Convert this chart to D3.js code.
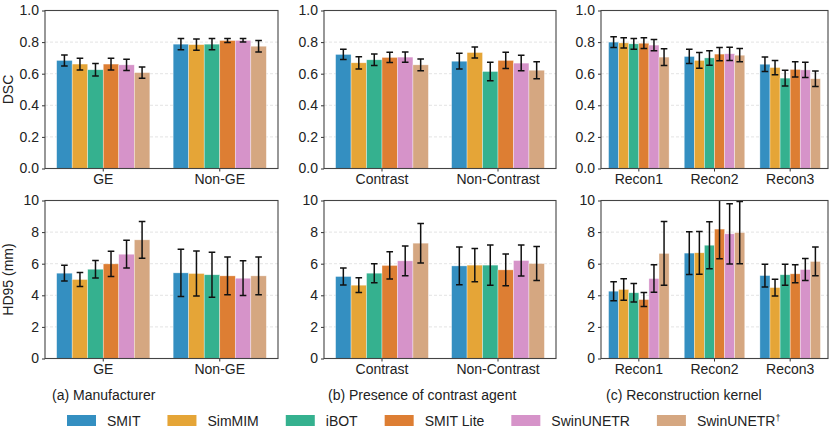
<!DOCTYPE html>
<html>
<head>
<meta charset="utf-8">
<script src="https://cdn.jsdelivr.net/npm/d3@7"></script>
<style>
  body { margin: 0; background: #fff; }
  text { font-family: "Liberation Sans", Arial, sans-serif; fill: #222; }
</style>
</head>
<body>
<div id="chart-area"></div>
<script>
const WIDTH = 837
const HEIGHT = 433

// models and colours (seaborn colorblind at 0.8 alpha)
const models = ["SMIT", "SimMIM", "iBOT", "SMIT Lite", "SwinUNETR", "SwinUNETR"]
const colors = ["#348fc1", "#e5a537", "#35b18f", "#dd7e33", "#d693c9", "#d5a781"]

// categories
const manuCats = ["GE", "Non-GE"]
const contrastCats = ["Contrast", "Non-Contrast"]
const reconCats = ["Recon1", "Recon2", "Recon3"]

// DSC means / error half-widths (one row per category, one value per model)
const dscManu = [[0.684, 0.661, 0.625, 0.661, 0.656, 0.607], [0.787, 0.784, 0.787, 0.810, 0.811, 0.774]]
const dscManuErr = [[0.035, 0.037, 0.040, 0.037, 0.035, 0.036], [0.036, 0.036, 0.036, 0.012, 0.011, 0.036]]
const dscContrast = [[0.722, 0.669, 0.688, 0.703, 0.705, 0.656], [0.679, 0.734, 0.614, 0.684, 0.667, 0.622]]
const dscContrastErr = [[0.032, 0.039, 0.036, 0.032, 0.033, 0.037], [0.050, 0.035, 0.058, 0.051, 0.049, 0.054]]
const dscRecon = [[0.800, 0.795, 0.789, 0.793, 0.781, 0.705], [0.709, 0.684, 0.700, 0.724, 0.726, 0.717], [0.660, 0.639, 0.572, 0.627, 0.624, 0.568]]
const dscReconErr = [[0.034, 0.033, 0.034, 0.034, 0.036, 0.053], [0.045, 0.050, 0.046, 0.042, 0.042, 0.042], [0.046, 0.045, 0.050, 0.048, 0.048, 0.049]]

// HD95 means / error half-widths
const hdManu = [[5.40, 5.00, 5.65, 5.99, 6.60, 7.51], [5.42, 5.38, 5.30, 5.23, 5.08, 5.23]]
const hdManuErr = [[0.50, 0.44, 0.56, 0.80, 0.88, 1.16], [1.50, 1.42, 1.43, 1.20, 1.10, 1.20]]
const hdContrast = [[5.19, 4.64, 5.40, 5.89, 6.18, 7.30], [5.86, 5.91, 5.91, 5.61, 6.20, 6.01]]
const hdContrastErr = [[0.54, 0.47, 0.60, 0.86, 0.94, 1.25], [1.20, 1.05, 1.28, 1.00, 0.98, 1.08]]
const hdRecon = [[4.26, 4.37, 4.16, 3.73, 5.06, 6.65], [6.67, 6.69, 7.17, 8.19, 7.89, 7.97], [5.25, 4.49, 5.30, 5.36, 5.63, 6.14]]
const hdReconErr = [[0.60, 0.68, 0.58, 0.44, 0.87, 2.02], [1.35, 1.35, 1.49, 1.88, 1.91, 1.97], [0.72, 0.53, 0.66, 0.57, 0.70, 0.91]]

const dscTicks = [0, 0.2, 0.4, 0.6, 0.8, 1.0]
const hdTicks = [0, 2, 4, 6, 8, 10]
const captions = ["(a) Manufacturer", "(b) Presence of contrast agent", "(c) Reconstruction kernel"]

const COLS = [[45, 278], [324, 556], [601, 828]]
const ROWS = [[10.5, 168.5], [200.5, 358.5]]
const FONT = "14px"

const svg = d3.select("#chart-area").append("svg")
  .attr("width", WIDTH)
  .attr("height", HEIGHT)

let clipId = 0

function drawPanel(col, row, cats, means, errs, ticks, fmt) {
  const [x0, x1] = COLS[col]
  const [y0, y1] = ROWS[row]
  const g = svg.append("g")

  const x = d3.scaleBand().domain(cats).range([x0, x1]).padding(0)
  const xInner = d3.scaleBand().domain(d3.range(models.length))
    .range([x.bandwidth() * 0.1, x.bandwidth() * 0.9]).padding(0)
  const y = d3.scaleLinear().domain([ticks[0], ticks[ticks.length - 1]]).range([y1, y0])

  // grid
  g.selectAll(".grid").data(ticks.slice(1, -1)).enter().append("line")
    .attr("x1", x0).attr("x2", x1)
    .attr("y1", d => y(d)).attr("y2", d => y(d))
    .attr("stroke", "#dcdcdc").attr("stroke-width", 0.8)
    .attr("stroke-dasharray", "3,2")

  const id = "clip" + (clipId++)
  svg.append("clipPath").attr("id", id).append("rect")
    .attr("x", x0).attr("y", y0).attr("width", x1 - x0).attr("height", y1 - y0)

  const rows = []
  cats.forEach((c, i) => {
    means[i].forEach((m, j) => rows.push({ cat: c, k: j, mean: m, err: errs[i][j] }))
  })

  g.selectAll("rect.bar").data(rows).enter().append("rect")
    .attr("class", "bar")
    .attr("x", d => x(d.cat) + xInner(d.k))
    .attr("width", xInner.bandwidth())
    .attr("y", d => y(d.mean))
    .attr("height", d => y1 - y(d.mean))
    .attr("fill", d => colors[d.k])
    .attr("stroke", "#fff").attr("stroke-opacity", 0.6).attr("stroke-width", 0.6)

  const eb = g.append("g").attr("clip-path", `url(#${id})`)
    .selectAll("g").data(rows).enter().append("g")
    .attr("transform", d => `translate(${x(d.cat) + xInner(d.k) + xInner.bandwidth() / 2},0)`)
  eb.append("line")
    .attr("y1", d => y(d.mean - d.err)).attr("y2", d => y(d.mean + d.err))
    .attr("stroke", "#111").attr("stroke-width", 1.5)
  eb.selectAll("line.cap").data(d => [d.mean - d.err, d.mean + d.err]).enter().append("line")
    .attr("class", "cap")
    .attr("x1", -3.3).attr("x2", 3.3)
    .attr("y1", v => y(v)).attr("y2", v => y(v))
    .attr("stroke", "#111").attr("stroke-width", 1.5)

  // axes
  const yAxis = g.append("g").attr("transform", `translate(${x0},0)`)
    .call(d3.axisLeft(y).tickValues(ticks).tickFormat(fmt).tickSize(3).tickPadding(3))
  yAxis.select(".domain").remove()
  yAxis.selectAll("text").attr("font-size", FONT).attr("fill", "#222")
  yAxis.selectAll("line").attr("stroke", "#333")

  const xAxis = g.append("g").attr("transform", `translate(0,${y1})`)
    .call(d3.axisBottom(x).tickSize(3).tickPadding(3))
  xAxis.select(".domain").remove()
  xAxis.selectAll("text").attr("font-size", FONT).attr("fill", "#222")
  xAxis.selectAll("line").attr("stroke", "#333")

  // frame
  g.append("rect")
    .attr("x", x0).attr("y", y0).attr("width", x1 - x0).attr("height", y1 - y0)
    .attr("fill", "none").attr("stroke", "#444").attr("stroke-width", 1.1)
}

const f1 = d3.format(".1f")
const f0 = d3.format("d")

drawPanel(0, 0, manuCats, dscManu, dscManuErr, dscTicks, f1)
drawPanel(1, 0, contrastCats, dscContrast, dscContrastErr, dscTicks, f1)
drawPanel(2, 0, reconCats, dscRecon, dscReconErr, dscTicks, f1)
drawPanel(0, 1, manuCats, hdManu, hdManuErr, hdTicks, f0)
drawPanel(1, 1, contrastCats, hdContrast, hdContrastErr, hdTicks, f0)
drawPanel(2, 1, reconCats, hdRecon, hdReconErr, hdTicks, f0)

// y labels
svg.append("text")
  .attr("transform", `translate(13,${(ROWS[0][0] + ROWS[0][1]) / 2}) rotate(-90)`)
  .attr("text-anchor", "middle").attr("font-size", FONT)
  .text("DSC")
svg.append("text")
  .attr("transform", `translate(13,${(ROWS[1][0] + ROWS[1][1]) / 2}) rotate(-90)`)
  .attr("text-anchor", "middle").attr("font-size", FONT)
  .text("HD95 (mm)")

// captions
const capX = [52, 328, 606]
captions.forEach((c, i) => {
  svg.append("text").attr("x", capX[i]).attr("y", 400)
    .attr("font-size", FONT).text(c)
})

// legend
let lx = 67
models.forEach((m, i) => {
  svg.append("rect").attr("x", lx).attr("y", 415).attr("width", 29).attr("height", 11)
    .attr("fill", colors[i])
  const t = svg.append("text").attr("x", lx + 40).attr("y", 426)
    .attr("font-size", FONT).text(m)
  if (i === models.length - 1) {
    t.append("tspan").attr("baseline-shift", "super").attr("font-size", "9px").text("†")
  }
  lx += 40 + t.node().getComputedTextLength() + 27
})
</script>
</body>
</html>
